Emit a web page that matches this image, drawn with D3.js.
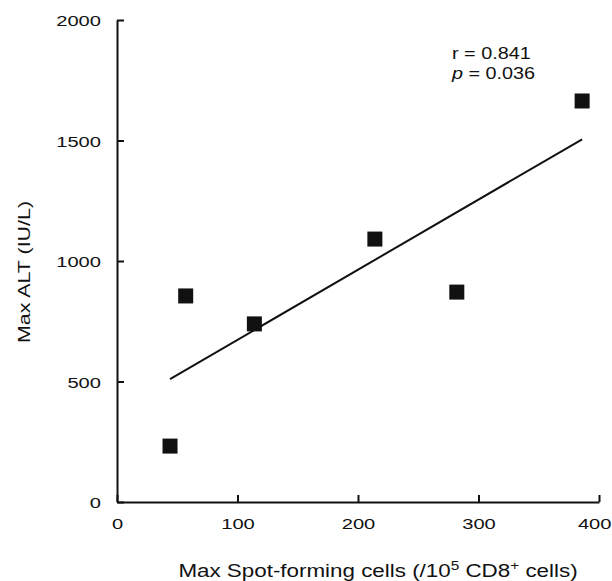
<!DOCTYPE html>
<html>
<head>
<meta charset="utf-8">
<script src="https://cdn.jsdelivr.net/npm/d3@7"></script>
<style>
  body { margin: 0; background: #fff; }
  svg text { font-family: "Liberation Sans", Arial, Helvetica, sans-serif; fill: #111; }
</style>
</head>
<body>
<div id="chart"></div>
<script>
// data
var spot_cells = [44, 57, 114, 214, 282, 386];
var max_alt = [232, 855, 739, 1091, 871, 1664];

// regression line end points (as drawn)
var fit_x = [44, 386];
var fit_y = [510, 1505];

var x_ticks = [0, 100, 200, 300, 400];
var y_ticks = [0, 500, 1000, 1500, 2000];

var full_width = 612,
    full_height = 581;

var margin = { top: 20, right: 13, bottom: 79, left: 117 };
var width = full_width - margin.left - margin.right;
var height = full_height - margin.top - margin.bottom;

// the printed type is wide, so text is stretched horizontally
var stretch = 1.3;

var x = d3.scaleLinear()
    .domain([0, 400])
    .range([0, width]);

var y = d3.scaleLinear()
    .domain([0, 2000])
    .range([height, 0]);

var svg = d3.select("#chart")
    .append("svg")
    .attr("width", full_width)
    .attr("height", full_height);

var g = svg.append("g")
    .attr("transform", "translate(" + margin.left + "," + margin.top + ")");

// X Axis (ticks point inward)
var xAxis = g.append("g")
    .attr("transform", "translate(0," + height + ")")
    .call(d3.axisBottom(x).tickValues(x_ticks).tickFormat(d3.format("d"))
        .tickSizeInner(-7).tickSizeOuter(0).tickPadding(0));

// Y Axis
var yAxis = g.append("g")
    .call(d3.axisLeft(y).tickValues(y_ticks).tickFormat(d3.format("d"))
        .tickSizeInner(-7).tickSizeOuter(0).tickPadding(0));

[xAxis, yAxis].forEach(function(a) {
    a.select(".domain").attr("stroke", "#111").attr("stroke-width", 2);
    a.selectAll(".tick line").attr("stroke", "#111").attr("stroke-width", 2);
    a.selectAll(".tick text")
        .attr("fill", "#111")
        .attr("x", 0)
        .attr("dy", null)
        .style("font-size", "15.5px")
        .style("font-family", '"Liberation Sans", Arial, sans-serif');
});
xAxis.selectAll(".tick text")
    .attr("y", 27)
    .attr("transform", "scale(" + stretch + ",1)")
    .filter(function(d) { return d === 400; })
    .attr("text-anchor", "end")
    .attr("x", 12 / stretch);
yAxis.selectAll(".tick text")
    .attr("y", 0)
    .attr("dy", "0.36em")
    .attr("x", -16 / stretch)
    .attr("transform", "scale(" + stretch + ",1)");

// fit line
g.append("line")
    .attr("x1", x(fit_x[0]))
    .attr("y1", y(fit_y[0]))
    .attr("x2", x(fit_x[1]))
    .attr("y2", y(fit_y[1]))
    .attr("stroke", "#111")
    .attr("stroke-width", 2);

// points
var sq = 15;
g.selectAll("rect.pt")
    .data(spot_cells)
    .enter()
    .append("rect")
    .attr("class", "pt")
    .attr("x", function(d) { return x(d) - sq / 2; })
    .attr("y", function(d, i) { return y(max_alt[i]) - sq / 2; })
    .attr("width", sq)
    .attr("height", sq)
    .attr("fill", "#111");

// stats
var stats = svg.append("g")
    .attr("transform", "translate(452,0) scale(1.2,1)");
stats.append("text")
    .attr("y", 59)
    .style("font-size", "16.5px")
    .text("r = 0.841");

var pt = stats.append("text")
    .attr("y", 79)
    .style("font-size", "16.5px");
pt.append("tspan").style("font-style", "italic").text("p");
pt.append("tspan").text(" = 0.036");

// X Axis label
var xl = svg.append("g")
    .attr("transform", "translate(378,577) scale(1.28,1)")
    .append("text")
    .style("text-anchor", "middle")
    .style("font-size", "17.5px");
xl.append("tspan").text("Max Spot-forming cells (/10");
xl.append("tspan").attr("dy", -7).style("font-size", "12px").text("5");
xl.append("tspan").attr("dy", 7).text(" CD8");
xl.append("tspan").attr("dy", -7).style("font-size", "12px").text("+");
xl.append("tspan").attr("dy", 7).text(" cells)");

// Y Axis label
svg.append("g")
    .attr("transform", "translate(30,272) rotate(-90) scale(1.3,1)")
    .append("text")
    .style("text-anchor", "middle")
    .style("font-size", "16.5px")
    .text("Max ALT (IU/L)");
</script>
</body>
</html>
